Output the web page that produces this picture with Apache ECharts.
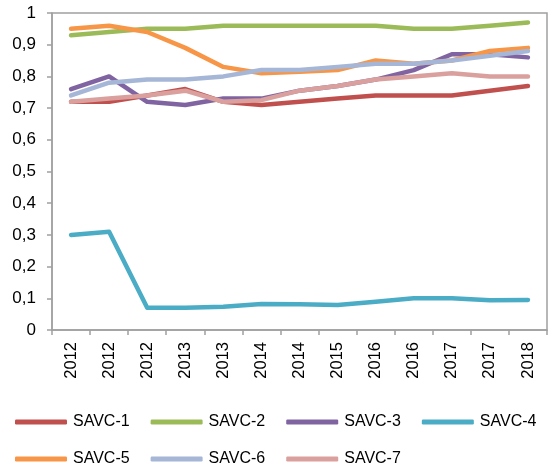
<!DOCTYPE html>
<html>
<head>
<meta charset="utf-8">
<script src="https://cdn.jsdelivr.net/npm/echarts@6/dist/echarts.min.js"></script>
<style>
  html, body { margin: 0; padding: 0; background: #fff; }
  #chart { width: 551px; height: 473px; }
</style>
</head>
<body>
<div id="chart"></div>
<script>
// Category labels (years, as reported per measurement)
const years = ['2012', '2012', '2012', '2013', '2013', '2014', '2014', '2015', '2016', '2016', '2017', '2017', '2018'];

// Series values
const savc1 = [0.72, 0.72, 0.74, 0.76, 0.72, 0.71, 0.72, 0.73, 0.74, 0.74, 0.74, 0.755, 0.77];
const savc2 = [0.93, 0.94, 0.95, 0.95, 0.96, 0.96, 0.96, 0.96, 0.96, 0.95, 0.95, 0.96, 0.97];
const savc3 = [0.76, 0.80, 0.72, 0.71, 0.73, 0.73, 0.755, 0.77, 0.79, 0.82, 0.87, 0.87, 0.86];
const savc4 = [0.30, 0.31, 0.07, 0.07, 0.073, 0.082, 0.081, 0.079, 0.089, 0.10, 0.10, 0.094, 0.095];
const savc5 = [0.95, 0.96, 0.94, 0.89, 0.83, 0.81, 0.815, 0.82, 0.85, 0.84, 0.85, 0.88, 0.89];
const savc6 = [0.74, 0.78, 0.79, 0.79, 0.80, 0.82, 0.82, 0.83, 0.84, 0.84, 0.85, 0.865, 0.88];
const savc7 = [0.72, 0.73, 0.74, 0.755, 0.72, 0.725, 0.755, 0.77, 0.79, 0.80, 0.81, 0.80, 0.80];

const seriesNames = ['SAVC-1', 'SAVC-2', 'SAVC-3', 'SAVC-4', 'SAVC-5', 'SAVC-6', 'SAVC-7'];
const seriesValues = [savc1, savc2, savc3, savc4, savc5, savc6, savc7];
const seriesColors = ['#C0504D', '#9BBB59', '#8064A2', '#4BACC6', '#F79646', '#A5B6D6', '#D9A09E'];

const FONT = '"Liberation Sans", Arial, sans-serif';
const AXIS_GRAY = '#a0a0a0';

const chart = echarts.init(document.getElementById('chart'), null, { renderer: 'canvas' });

const legendCommon = {
  orient: 'horizontal',
  icon: 'roundRect',
  itemWidth: 52,
  itemHeight: 5,
  itemGap: 21,
  textStyle: { fontFamily: FONT, fontSize: 16, color: '#000', padding: [0, 0, 0, 1] },
  selectedMode: false
};

chart.setOption({
  animation: false,
  backgroundColor: '#fff',
  color: seriesColors,
  grid: {
    left: 52, right: 4, top: 13, bottom: 143,
    outerBoundsMode: 'none',
    containLabel: false,
    show: true,
    borderColor: AXIS_GRAY,
    borderWidth: 1.5,
    backgroundColor: 'transparent'
  },
  legend: [
    Object.assign({ left: 10, top: 409, data: seriesNames.slice(0, 4) }, legendCommon),
    Object.assign({ left: 10, top: 446, data: seriesNames.slice(4) }, legendCommon)
  ],
  xAxis: {
    type: 'category',
    data: years,
    boundaryGap: true,
    axisLine: { show: true, lineStyle: { color: AXIS_GRAY, width: 1.5 } },
    axisTick: { show: true, alignWithLabel: false, length: 5, lineStyle: { color: AXIS_GRAY, width: 1.5 } },
    axisLabel: {
      interval: 0,
      rotate: 90,
      margin: 12,
      fontFamily: FONT,
      fontSize: 16.5,
      color: '#000'
    },
    splitLine: { show: false }
  },
  yAxis: {
    type: 'value',
    min: 0,
    max: 1,
    interval: 0.1,
    axisLine: { show: true, lineStyle: { color: AXIS_GRAY, width: 1.5 } },
    axisTick: { show: true, inside: false, length: 5, lineStyle: { color: AXIS_GRAY, width: 1.5 } },
    axisLabel: {
      margin: 16,
      fontFamily: FONT,
      fontSize: 17,
      color: '#000',
      formatter: v => String(Number(v.toFixed(1))).replace('.', ',')
    },
    splitLine: { show: false }
  },
  series: seriesNames.map((name, i) => ({
    name,
    type: 'line',
    data: seriesValues[i],
    showSymbol: false,
    symbol: 'none',
    smooth: false,
    lineStyle: { width: 4.5, color: seriesColors[i], cap: 'round', join: 'round' },
    itemStyle: { color: seriesColors[i] },
    z: 2 + i
  }))
});
</script>
</body>
</html>
